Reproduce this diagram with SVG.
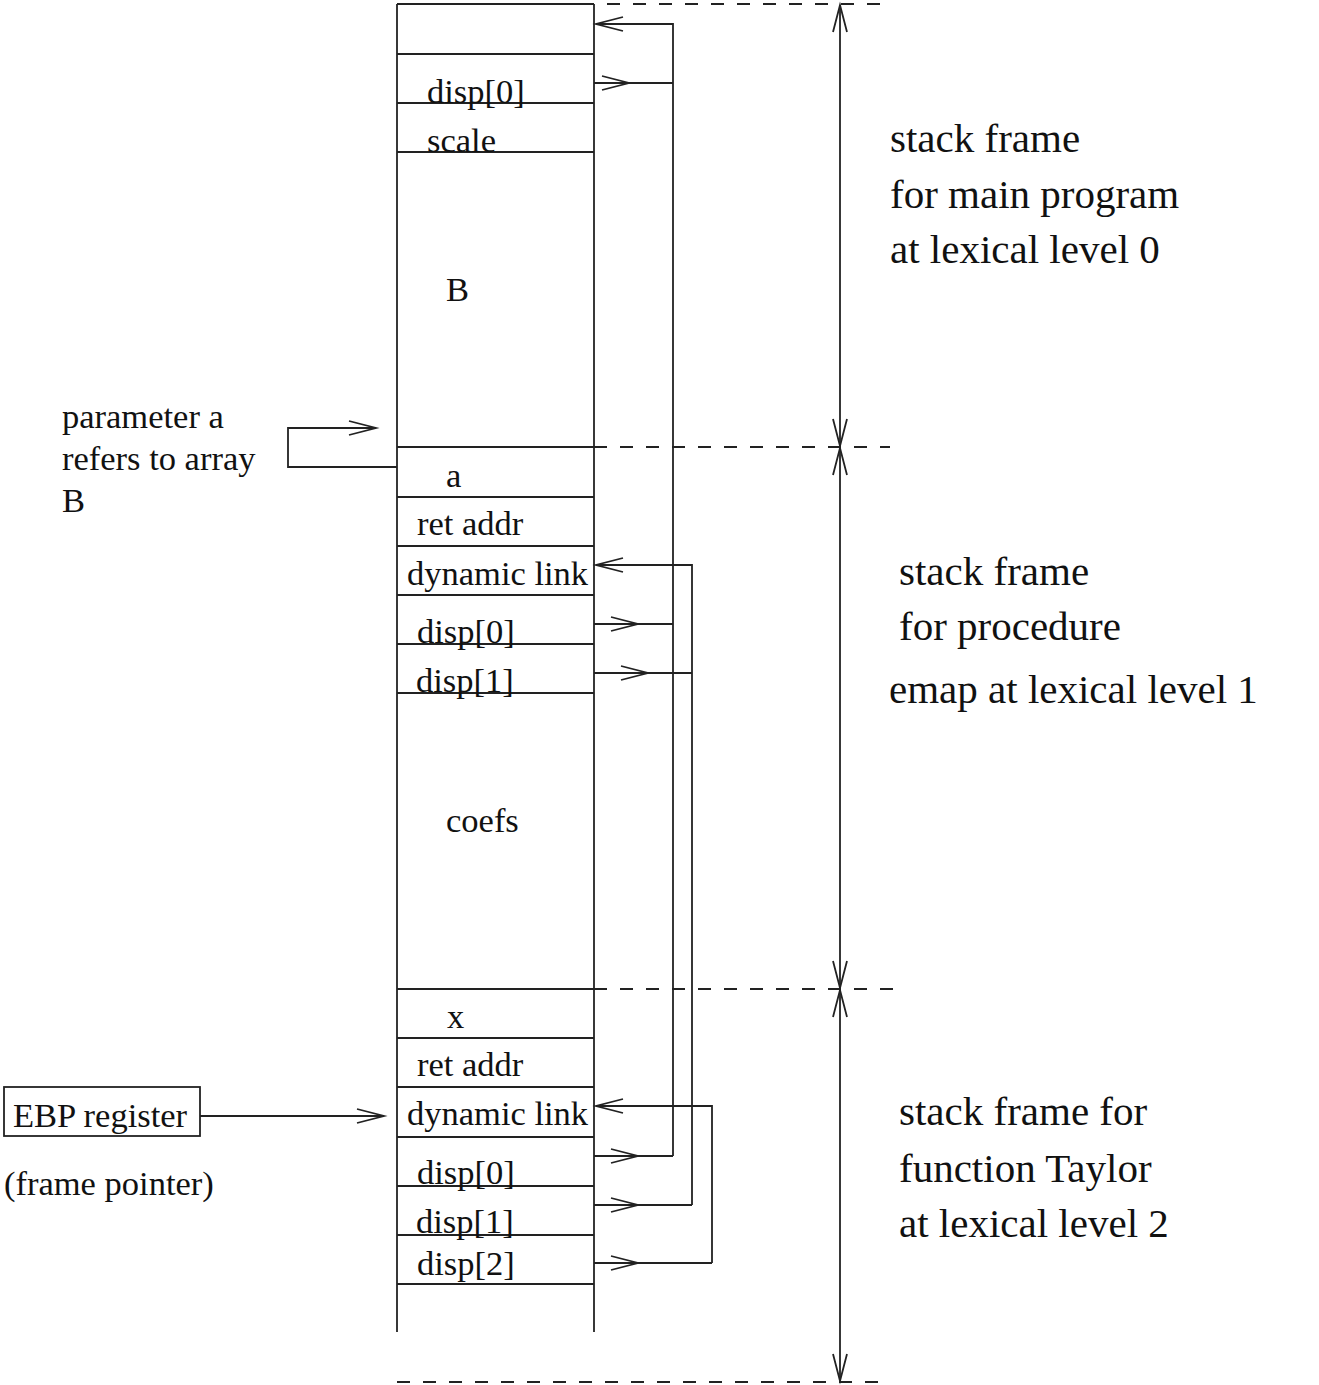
<svg xmlns="http://www.w3.org/2000/svg" width="1319" height="1385" viewBox="0 0 1319 1385">
<style>
.ln{stroke:#222;stroke-width:1.8;fill:none}
.ds{stroke:#222;stroke-width:1.8;fill:none;stroke-dasharray:13 13}
.t{font-family:"Liberation Serif","Times New Roman",serif;fill:#111}
.s{font-size:34.5px}
.b{font-size:41px}
.ar{marker-end:url(#ah)}
.dbl{marker-start:url(#ah);marker-end:url(#ah)}
</style>
<defs>
<marker id="ah" markerUnits="userSpaceOnUse" markerWidth="40" markerHeight="20" viewBox="-30 -10 32 20" refX="0" refY="0" orient="auto-start-reverse">
<path d="M-27,-7 L0,0 L-27,7" fill="none" stroke="#222" stroke-width="1.8"/>
</marker>
</defs>
<rect width="1319" height="1385" fill="#fff"/>

<g id="stack">
<line class="ln" x1="397" y1="4" x2="397" y2="1332"/>
<line class="ln" x1="594" y1="4" x2="594" y2="1332"/>
<line class="ln" x1="397" y1="4" x2="594" y2="4"/>
</g>

<g id="main-top"><line class="ln" x1="397" y1="54" x2="594" y2="54"/></g>
<g id="main-disp0"><line class="ln" x1="397" y1="103" x2="594" y2="103"/><text class="t s" x="427" y="103">disp[0]</text></g>
<g id="main-scale"><line class="ln" x1="397" y1="152" x2="594" y2="152"/><text class="t s" x="427" y="152">scale</text></g>
<g id="main-B"><line class="ln" x1="397" y1="447" x2="594" y2="447"/><text class="t s" x="446" y="301">B</text></g>

<g id="emap-a"><line class="ln" x1="397" y1="497" x2="594" y2="497"/><text class="t s" x="446" y="487">a</text></g>
<g id="emap-ret"><line class="ln" x1="397" y1="546" x2="594" y2="546"/><text class="t s" x="417" y="535">ret addr</text></g>
<g id="emap-dyn"><line class="ln" x1="397" y1="595" x2="594" y2="595"/><text class="t s" x="407" y="585">dynamic link</text></g>
<g id="emap-disp0"><line class="ln" x1="397" y1="644" x2="594" y2="644"/><text class="t s" x="417" y="643">disp[0]</text></g>
<g id="emap-disp1"><line class="ln" x1="397" y1="693" x2="594" y2="693"/><text class="t s" x="416" y="692">disp[1]</text></g>
<g id="emap-coefs"><line class="ln" x1="397" y1="989" x2="594" y2="989"/><text class="t s" x="446" y="832">coefs</text></g>

<g id="taylor-x"><line class="ln" x1="397" y1="1038" x2="594" y2="1038"/><text class="t s" x="447" y="1028">x</text></g>
<g id="taylor-ret"><line class="ln" x1="397" y1="1087" x2="594" y2="1087"/><text class="t s" x="417" y="1076">ret addr</text></g>
<g id="taylor-dyn"><line class="ln" x1="397" y1="1137" x2="594" y2="1137"/><text class="t s" x="407" y="1125">dynamic link</text></g>
<g id="taylor-disp0"><line class="ln" x1="397" y1="1186" x2="594" y2="1186"/><text class="t s" x="417" y="1184">disp[0]</text></g>
<g id="taylor-disp1"><line class="ln" x1="397" y1="1235" x2="594" y2="1235"/><text class="t s" x="416" y="1233">disp[1]</text></g>
<g id="taylor-disp2"><line class="ln" x1="397" y1="1284" x2="594" y2="1284"/><text class="t s" x="417" y="1275">disp[2]</text></g>

<g id="param-label"><text class="t s" x="62" y="428">parameter a</text><text class="t s" x="62" y="470">refers to array</text><text class="t s" x="62" y="512">B</text></g>
<g id="ebp"><rect class="ln" x="4" y="1087" width="196" height="49"/><text class="t s" x="13" y="1127">EBP register</text></g>
<g id="ebp-note"><text class="t s" x="4" y="1195">(frame pointer)</text></g>

<g id="label-main"><text class="t b" x="890" y="152">stack frame</text><text class="t b" x="890" y="208">for main program</text><text class="t b" x="890" y="263">at lexical level 0</text></g>
<g id="label-emap"><text class="t b" x="899" y="585">stack frame</text><text class="t b" x="899" y="640">for procedure</text><text class="t b" x="889" y="703">emap at lexical level 1</text></g>
<g id="label-taylor"><text class="t b" x="899" y="1125">stack frame for</text><text class="t b" x="899" y="1182">function Taylor</text><text class="t b" x="899" y="1237">at lexical level 2</text></g>

<g id="connectors">
<line class="ds" x1="607" y1="4" x2="890" y2="4"/>
<line class="ds" x1="594" y1="447" x2="890" y2="447"/>
<line class="ds" x1="594" y1="989" x2="895" y2="989"/>
<line class="ds" x1="397" y1="1382" x2="880" y2="1382"/>
<line class="ln dbl" x1="840" y1="5" x2="840" y2="446"/>
<line class="ln dbl" x1="840" y1="448" x2="840" y2="988"/>
<line class="ln dbl" x1="840" y1="990" x2="840" y2="1381"/>

<polyline class="ln ar" points="673,1156 673,24 596,24"/>
<line class="ln ar" x1="594" y1="83" x2="629" y2="83"/><line class="ln" x1="629" y1="83" x2="673" y2="83"/>
<line class="ln ar" x1="594" y1="624" x2="638" y2="624"/><line class="ln" x1="638" y1="624" x2="673" y2="624"/>
<line class="ln ar" x1="594" y1="1156" x2="638" y2="1156"/><line class="ln" x1="638" y1="1156" x2="673" y2="1156"/>

<polyline class="ln ar" points="692,1205 692,565 596,565"/>
<line class="ln ar" x1="594" y1="673" x2="648" y2="673"/><line class="ln" x1="648" y1="673" x2="692" y2="673"/>
<line class="ln ar" x1="594" y1="1205" x2="638" y2="1205"/><line class="ln" x1="638" y1="1205" x2="692" y2="1205"/>

<polyline class="ln ar" points="712,1263 712,1106 596,1106"/>
<line class="ln ar" x1="594" y1="1263" x2="638" y2="1263"/><line class="ln" x1="638" y1="1263" x2="712" y2="1263"/>

<polyline class="ln ar" points="397,467 288,467 288,428 376,428"/>
<line class="ln ar" x1="200" y1="1116" x2="384" y2="1116"/>
</g>
</svg>
